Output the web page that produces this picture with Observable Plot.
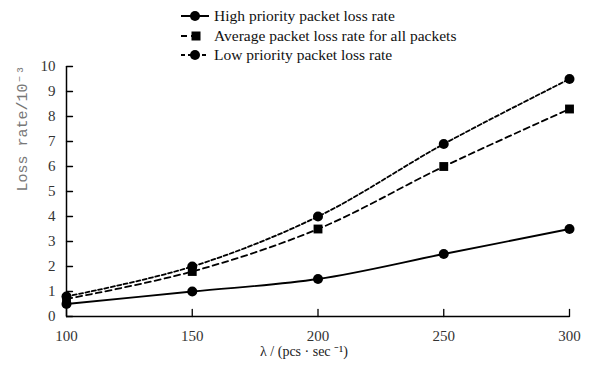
<!DOCTYPE html>
<html>
<head>
<meta charset="utf-8">
<script src="https://cdn.jsdelivr.net/npm/d3@7"></script>
<script src="https://cdn.jsdelivr.net/npm/@observablehq/plot@0.6"></script>
<style>
  body { margin: 0; background: #fff; }
  #legend { position: relative; height: 60px; width: 590px; font-family: "Liberation Serif", serif; font-size: 15.5px; color: #111; }
  .row { position: absolute; left: 178px; height: 20px; display: flex; align-items: center; white-space: nowrap; }
  .row svg { margin-right: 4px; }
</style>
</head>
<body>
<div id="legend"></div>
<div id="chart"></div>
<script>
const lambda = [100, 150, 200, 250, 300];
const highRate = [0.5, 1.0, 1.5, 2.5, 3.5];
const avgRate = [0.7, 1.8, 3.5, 6.0, 8.3];
const lowRate = [0.8, 2.0, 4.0, 6.9, 9.5];
const seriesNames = ["High priority packet loss rate", "Average packet loss rate for all packets", "Low priority packet loss rate"];
const yTicks = [0, 1, 2, 3, 4, 5, 6, 7, 8, 9, 10];
const xTicks = [100, 150, 200, 250, 300];
const yLabel = "Loss rate/10⁻³";
const xLabel = "λ / (pcs · sec ⁻¹)";

const styles = [
  {dash: null, symbol: "circle"},
  {dash: "6,4", symbol: "square"},
  {dash: "4,2.5", symbol: "circle"}
];
const seriesValues = [highRate, avgRate, lowRate];

// legend
const legend = document.getElementById("legend");
const rowTops = [6, 26, 45];
seriesNames.forEach((name, i) => {
  const row = document.createElement("div");
  row.className = "row";
  row.style.top = rowTops[i] + "px";
  const st = styles[i];
  let sym;
  if (st.symbol === "square") sym = `<rect x="13.5" y="5.5" width="9" height="9" fill="#000"/>`;
  else sym = `<circle cx="17" cy="10" r="5" fill="#000"/>`;
  const x2 = i === 1 ? 20 : 31;
  row.innerHTML = `<svg width="32" height="20"><line x1="3" x2="${x2}" y1="10" y2="10" stroke="#000" stroke-width="2" ${st.dash ? `stroke-dasharray="${i===1 ? '6,4' : '4,3'}"` : ""}/>${sym}</svg><span>${name}</span>`;
  legend.appendChild(row);
});

const data = [];
seriesNames.forEach((name, i) => {
  lambda.forEach((x, j) => data.push({series: name, idx: i, x, y: seriesValues[i][j]}));
});

const tickShape = {draw(context, l) { context.moveTo(0, 0); context.lineTo(0, -l); }};

const marks = [
  Plot.ruleX([xTicks[0]], {y1: 0, y2: 10, stroke: "#000", strokeWidth: 1.5}),
  Plot.ruleY([0], {x1: xTicks[0], x2: xTicks[xTicks.length - 1], stroke: "#000", strokeWidth: 1.5}),
  Plot.vector(yTicks, {x: xTicks[0], y: d => d, rotate: 90, length: 6, anchor: "start", shape: tickShape, stroke: "#000", strokeWidth: 1.3}),
  Plot.vector(xTicks, {x: d => d, y: 0, rotate: 0, length: 7, anchor: "start", shape: tickShape, stroke: "#000", strokeWidth: 1.3}),
  Plot.axisY({ticks: yTicks, tickSize: 0, tickPadding: 11, label: null, fontSize: 15, fontFamily: "Liberation Serif, serif", color: "#333"}),
  Plot.axisX({ticks: xTicks, tickSize: 0, tickPadding: 14, label: null, fontSize: 15, fontFamily: "Liberation Serif, serif", color: "#333"}),
];
styles.forEach((st, i) => {
  const d = data.filter(r => r.idx === i);
  marks.push(Plot.line(d, {x: "x", y: "y", curve: "catmull-rom", stroke: "#000", strokeWidth: 1.8, strokeDasharray: st.dash}));
  marks.push(Plot.dot(d, {x: "x", y: "y", symbol: st.symbol, r: 5, fill: "#000"}));
});
marks.push(Plot.text([yLabel], {text: d => d, frameAnchor: "left", rotate: -90, dx: -44, fontSize: 15, fontFamily: "Liberation Mono, monospace", fill: "#777"}));
marks.push(Plot.text([xLabel], {text: d => d, frameAnchor: "bottom", dy: 39, dx: -14, fontSize: 14, fontFamily: "Liberation Serif, serif", fill: "#222"}));

const chart = Plot.plot({
  width: 590,
  height: 308,
  marginTop: 6,
  marginBottom: 52,
  marginLeft: 66,
  marginRight: 21,
  x: {domain: [100, 300], axis: null},
  y: {domain: [0, 10], axis: null},
  style: {background: "#fff", overflow: "visible"},
  marks
});
document.getElementById("chart").appendChild(chart);
</script>
</body>
</html>
